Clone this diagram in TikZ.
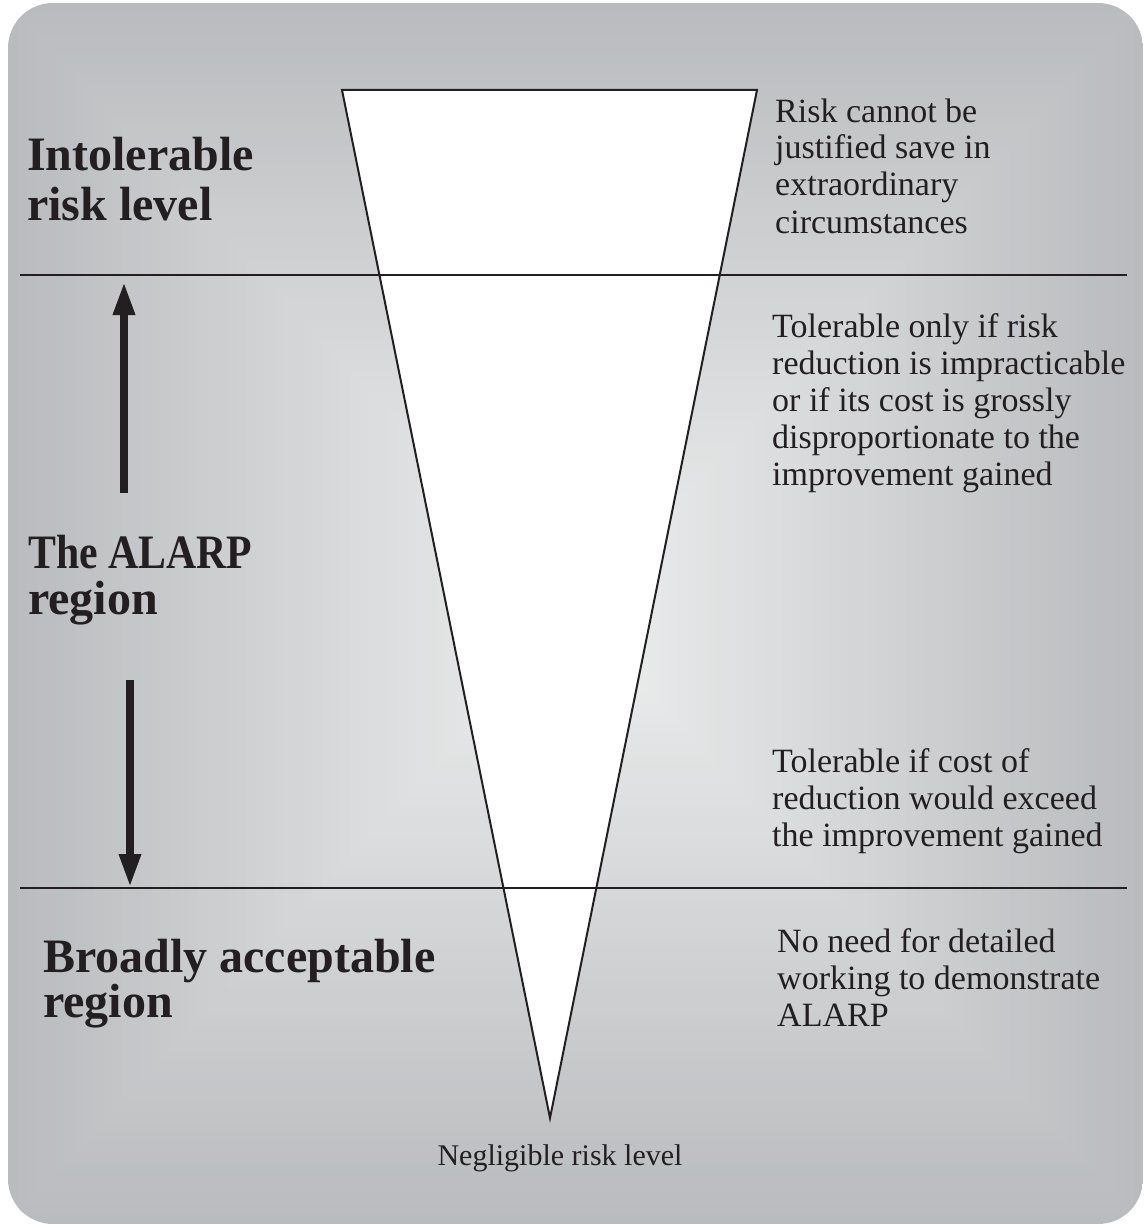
\documentclass[tikz,border=0pt]{standalone}
\usepackage{fontspec}
\setmainfont{Liberation Serif}
\usetikzlibrary{arrows.meta}
\definecolor{bgdark}{HTML}{B9BBBE}
\definecolor{bglight}{HTML}{EEEFEF}
\definecolor{ink}{HTML}{231F20}
\begin{document}
\begin{tikzpicture}[x=1pt,y=-1pt,
  boldlbl/.style={anchor=base west, inner sep=0pt, align=left, text=ink, font=\bfseries\fontsize{48}{50}\selectfont},
  desc/.style={anchor=base west, inner sep=0pt, align=left, text=ink, font=\fontsize{34}{37}\selectfont},
  divider/.style={draw=ink, line width=1.8pt},
  bigarrow/.style={draw=ink, line width=8.5pt, -{Triangle[width=20pt,length=34pt]}},
]
\useasboundingbox (0,0) rectangle (1143,1225);
% background with rectangular gradient
\begin{scope}
  \clip[rounded corners=45pt] (8,3) rectangle (1143,1224);
  \foreach \i in {0,...,59} {
    \pgfmathsetmacro\p{100*\i/59}
    \fill[bglight!\p!bgdark] (8+\i*9.5, 3+\i*10.2) rectangle (1143-\i*9.5, 1224-\i*10.2);
  }
\end{scope}
% funnel
\coordinate (tl) at (342,90);
\coordinate (tr) at (757,90);
\coordinate (apex) at (550,1118);
\filldraw[fill=white, draw=ink, line width=2pt] (tl) -- (tr) -- (apex) -- cycle;
% dividers
\coordinate (d1l) at (20,275);
\coordinate (d1r) at (1127,275);
\coordinate (d2l) at (20,888);
\coordinate (d2r) at (1127,888);
\draw[divider] (d1l) -- (d1r);
\draw[divider] (d2l) -- (d2r);
% arrows
\coordinate (upS) at (124,493);
\coordinate (upE) at (124,281);
\coordinate (dnS) at (130,680);
\coordinate (dnE) at (130,888);
\draw[bigarrow] (upS) -- (upE);
\draw[bigarrow] (dnS) -- (dnE);
% left labels (positioned at the baseline of their last line)
\node[boldlbl] (intol) at (27,220) {Intolerable\\risk level};
\node[boldlbl, font=\bfseries\fontsize{48}{46}\selectfont] (alarp) at (28,614) {\scalebox{0.87}[1]{The ALARP}\\region};
\node[boldlbl, font=\bfseries\fontsize{48}{45}\selectfont] (broad) at (43,1017) {Broadly acceptable\\region};
% right descriptions
\node[desc] (t1) at (775,233) {Risk cannot be\\justified save in\\extraordinary\\circumstances};
\node[desc] (t2) at (772,485) {Tolerable only if risk\\reduction is impracticable\\or if its cost is grossly\\disproportionate to the\\improvement gained};
\node[desc] (t3) at (772,846) {Tolerable if cost of\\reduction would exceed\\the improvement gained};
\node[desc] (t4) at (777,1026) {No need for detailed\\working to demonstrate\\ALARP};
\node[anchor=base, inner sep=0pt, text=ink, font=\fontsize{30}{34}\selectfont] (negl) at (560,1165) {Negligible risk level};
\end{tikzpicture}
\end{document}
